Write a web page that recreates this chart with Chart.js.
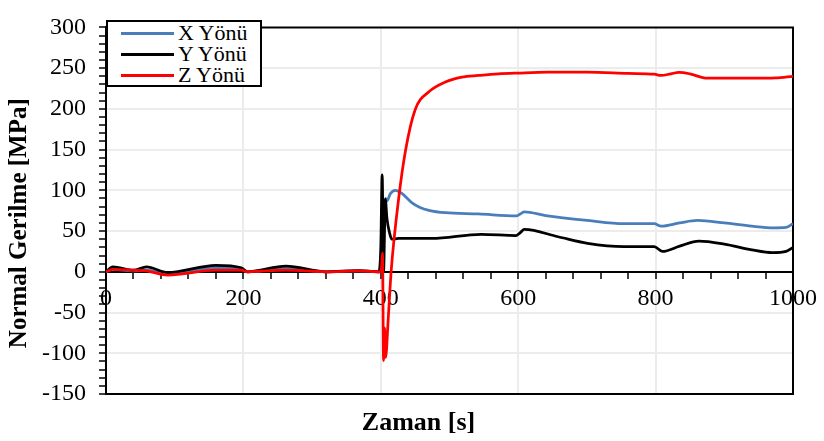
<!DOCTYPE html>
<html>
<head>
<meta charset="utf-8">
<script src="https://cdn.jsdelivr.net/npm/chart.js@4.4.0/dist/chart.umd.min.js"></script>
<style>
body { margin: 0; background: #fff; }
#wrap { position: relative; width: 824px; height: 441px; }
#legend {
    position: absolute; left: 106px; top: 20px; width: 156px; height: 67px;
    box-sizing: border-box; border: 2px solid #000; background: #fff;
    padding-top: 0.5px; font-family: 'Liberation Serif', serif; font-size: 22px; color: #000;
}
.item { display: flex; align-items: center; height: 21px; }
.swatch { width: 53px; height: 3px; margin-left: 13px; margin-right: 4px; }
</style>
</head>
<body>
<div id="wrap">
    <canvas id="chart" width="824" height="441"></canvas>
    <div id="legend"></div>
</div>
<script>
const seriesNames = ['X Yönü', 'Y Yönü', 'Z Yönü'];
const seriesColors = ['#4a7ebb', '#000000', '#ff0000'];

// X Yönü
const timeX = [0, 10, 40, 59, 90, 160, 197, 206, 262, 320, 368, 398, 402, 405, 407, 409, 414, 421, 431, 445,
    457, 470, 494, 542, 597, 603, 609, 640, 701, 754, 798, 808, 835, 861, 900, 940, 972, 990, 1000];
const valuesX = [0, 3, 1, 2, -3, 5, 3, 0, 4, 0, 1, 0, 20, 70, 90, 87, 96, 100, 96, 85,
    79, 75.5, 72.5, 71, 68.5, 71, 73.5, 69, 63, 59, 59, 56, 60, 63, 60, 56, 54, 54.5, 59];

// Y Yönü
const timeY = [0, 10, 40, 59, 90, 160, 197, 206, 262, 320, 368, 397, 400, 402, 404, 406.6, 409, 413, 416, 426,
    474, 546, 597, 603, 609, 658, 701, 754, 798, 810, 835, 863, 900, 940, 970, 990, 1000];
const valuesY = [0, 6, 2, 6, -1, 8, 5, 0, 7, 0, 1.5, 0, 30, 119, 0, 89, 65, 47, 40, 41,
    41, 46, 44.5, 48, 52, 43, 35, 31, 31, 25, 31.5, 37.6, 34, 27, 23.5, 25, 30];

// Z Yönü
const timeZ = [0, 10, 40, 59, 90, 160, 197, 206, 262, 320, 368, 399, 401, 402.5, 404, 405.5, 407, 411, 415, 426,
    436, 450, 470, 494, 518, 542, 571, 600, 643, 700, 760, 798, 808, 822, 834, 850, 875, 937, 975, 1000];
const valuesZ = [0, 3, 2, 1, -4, 2, 2, 0, 2, 0, 1, 0, 5, 23, -109, -69, -105, -55, 0, 90,
    149, 199, 221, 233, 239, 241, 243, 244, 245, 245, 243.5, 242.5, 241, 243, 244.8, 243, 237.6, 237.6, 238, 240];

const serifFont = 'Liberation Serif';

function toPoints(times, values) {
    return times.map((t, i) => ({ x: t, y: values[i] }));
}

// black frame on top, right and bottom of the plot area
const frame = {
    id: 'frame',
    beforeDatasetsDraw(chart) {
        const { ctx, chartArea: a } = chart;
        ctx.save();
        ctx.strokeStyle = '#000';
        ctx.lineWidth = 2;
        ctx.beginPath();
        ctx.moveTo(a.left, a.top);
        ctx.lineTo(a.right, a.top);
        ctx.lineTo(a.right, a.bottom);
        ctx.lineTo(a.left, a.bottom);
        ctx.stroke();
        ctx.restore();
    }
};

const series = [toPoints(timeX, valuesX), toPoints(timeY, valuesY), toPoints(timeZ, valuesZ)];
const drawOrder = [2, 1, 0];

const chart = new Chart(document.getElementById('chart'), {
    type: 'line',
    data: {
        datasets: series.map((points, i) => ({
            label: seriesNames[i],
            data: points,
            borderColor: seriesColors[i],
            borderWidth: 2.75,
            pointRadius: 0,
            fill: false,
            tension: 0.4,
            cubicInterpolationMode: 'monotone',
            order: drawOrder[i]
        }))
    },
    options: {
        responsive: false,
        animation: false,
        layout: { padding: { left: 40, right: 27, top: 20, bottom: 0 } },
        plugins: {
            legend: { display: false },
            tooltip: { enabled: false },
            title: {
                display: true,
                text: 'Zaman [s]',
                position: 'bottom',
                color: '#000',
                font: { family: serifFont, size: 26, weight: 'bold' },
                padding: { top: 14, bottom: 1.8 }
            }
        },
        scales: {
            x: {
                type: 'linear',
                position: { y: 0 },
                min: 0,
                max: 1000,
                ticks: {
                    stepSize: 40,
                    autoSkip: false,
                    maxRotation: 0,
                    padding: 7,
                    color: '#000',
                    font: { family: serifFont, size: 24 },
                    callback: v => (v % 200 === 0 ? v : '')
                },
                grid: {
                    color: ctx => (ctx.tick && ctx.tick.value % 200 === 0 && ctx.tick.value > 0 && ctx.tick.value < 1000) ? '#ececec' : 'rgba(0,0,0,0)',
                    lineWidth: 2,
                    tickColor: '#000',
                    tickLength: 6,
                    tickWidth: 1.5
                },
                border: { color: '#000', width: 2 }
            },
            y: {
                min: -150,
                max: 300,
                ticks: {
                    stepSize: 10,
                    autoSkip: false,
                    padding: 13,
                    color: '#000',
                    font: { family: serifFont, size: 24 },
                    callback: v => (v % 50 === 0 ? v : '')
                },
                grid: {
                    color: ctx => (ctx.tick && ctx.tick.value % 50 === 0 && ctx.tick.value > -150 && ctx.tick.value < 300 && ctx.tick.value !== 0) ? '#ececec' : 'rgba(0,0,0,0)',
                    lineWidth: 2,
                    tickColor: '#000',
                    tickLength: 7,
                    tickWidth: 1.5
                },
                border: { color: '#000', width: 2 },
                title: {
                    display: true,
                    text: 'Normal Gerilme [MPa]    ',
                    color: '#000',
                    font: { family: serifFont, size: 25, weight: 'bold' },
                    padding: { top: -35, bottom: 0 }
                },
                afterFit: scale => { scale.width = 66; }
            }
        }
    },
    plugins: [frame]
});

// legend inside the plot, top left
const legend = document.getElementById('legend');
chart.data.datasets.forEach(ds => {
    const item = document.createElement('div');
    item.className = 'item';
    const swatch = document.createElement('span');
    swatch.className = 'swatch';
    swatch.style.background = ds.borderColor;
    const text = document.createElement('span');
    text.textContent = ds.label;
    item.appendChild(swatch);
    item.appendChild(text);
    legend.appendChild(item);
});
</script>
</body>
</html>
